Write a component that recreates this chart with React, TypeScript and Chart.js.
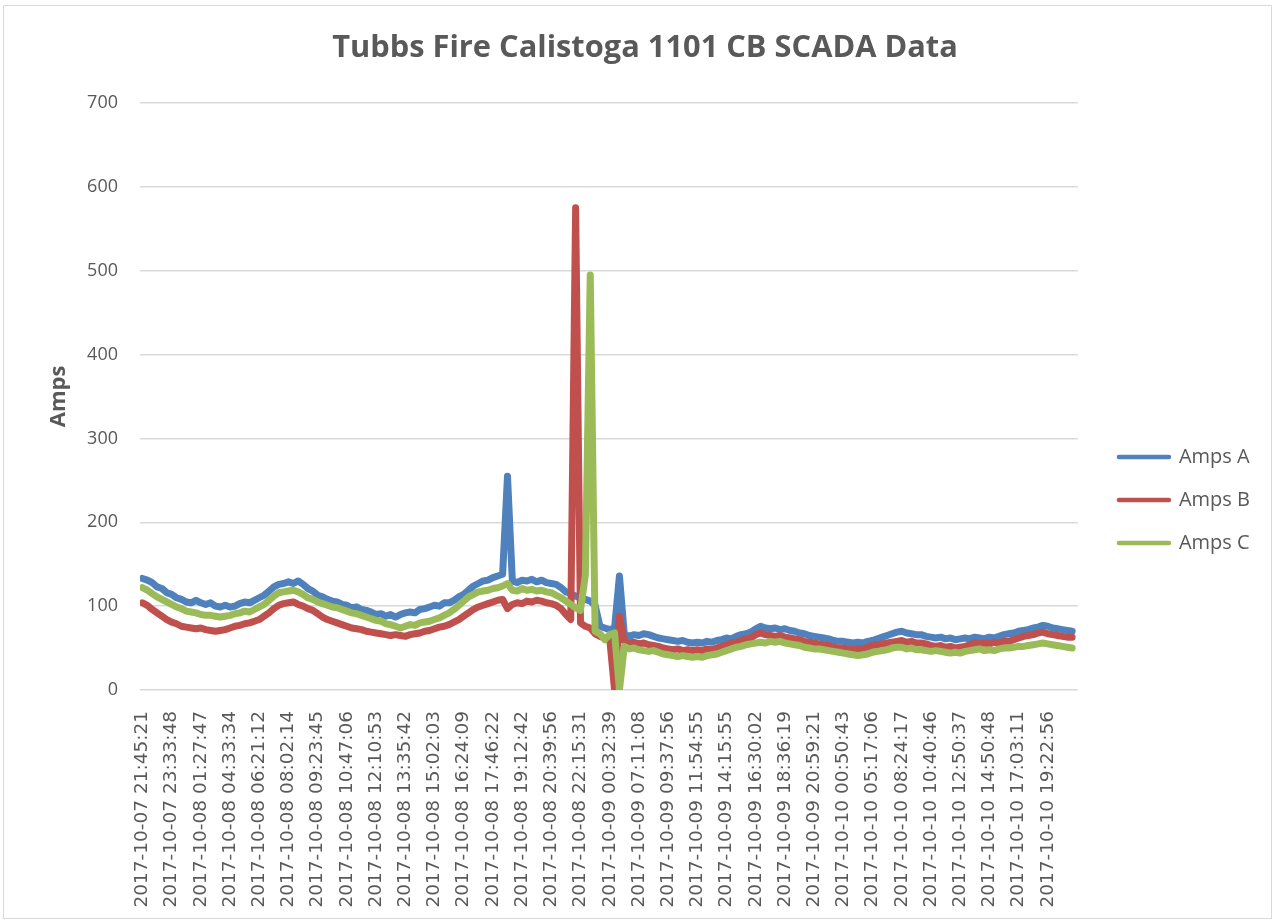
import { useEffect, useRef } from 'react';
import { Chart, registerables } from 'chart.js';

Chart.register(...registerables);

const chartTitle = 'Tubbs Fire Calistoga 1101 CB SCADA Data';
const yAxisTitle = 'Amps';
const seriesNames = ['Amps A', 'Amps B', 'Amps C'];
const seriesColors = ['#4f81bd', '#c0504d', '#9bbb59'];

// one tick label every LABEL_STEP samples
const LABEL_STEP = 6;
const tickLabels = [
  '2017-10-07 21:45:21', '2017-10-07 23:33:48', '2017-10-08 01:27:47', '2017-10-08 04:33:34',
  '2017-10-08 06:21:12', '2017-10-08 08:02:14', '2017-10-08 09:23:45', '2017-10-08 10:47:06',
  '2017-10-08 12:10:53', '2017-10-08 13:35:42', '2017-10-08 15:02:03', '2017-10-08 16:24:09',
  '2017-10-08 17:46:22', '2017-10-08 19:12:42', '2017-10-08 20:39:56', '2017-10-08 22:15:31',
  '2017-10-09 00:32:39', '2017-10-09 07:11:08', '2017-10-09 09:37:56', '2017-10-09 11:54:55',
  '2017-10-09 14:15:55', '2017-10-09 16:30:02', '2017-10-09 18:36:19', '2017-10-09 20:59:21',
  '2017-10-10 00:50:43', '2017-10-10 05:17:06', '2017-10-10 08:24:17', '2017-10-10 10:40:46',
  '2017-10-10 12:50:37', '2017-10-10 14:50:48', '2017-10-10 17:03:11', '2017-10-10 19:22:56',
];

const ampsA = [
  133, 131, 128, 123, 121, 116, 114, 110, 108, 105,
  104, 107, 104, 102, 104, 100, 99, 101, 99, 100,
  103, 105, 104, 107, 110, 113, 118, 123, 126, 127,
  129, 127, 130, 126, 121, 118, 113, 111, 108, 106,
  105, 102, 101, 98, 99, 96, 95, 93, 90, 91,
  88, 90, 87, 90, 92, 93, 92, 96, 97, 99,
  101, 100, 104, 104, 107, 111, 114, 119, 124, 127,
  130, 131, 134, 136, 138, 255, 130, 128, 131, 130,
  132, 129, 131, 128, 127, 126, 122, 117, 115, 112,
  110, 108, 106, 101, 76, 74, 72, 74, 136, 66,
  64, 66, 65, 67, 66, 64, 62, 61, 60, 59,
  58, 59, 57, 56, 57, 56, 58, 57, 59, 60,
  62, 61, 64, 66, 67, 69, 73, 76, 74, 73,
  74, 72, 73, 71, 70, 68, 67, 65, 64, 63,
  62, 61, 59, 58, 58, 57, 56, 57, 56, 58,
  59, 61, 63, 65, 67, 69, 70, 68, 67, 66,
  66, 64, 63, 62, 63, 61, 62, 60, 61, 62,
  61, 63, 62, 61, 63, 62, 64, 66, 67, 68,
  70, 71, 72, 74, 75, 77, 76, 74, 73, 72,
  71, 70,
];

const ampsB = [
  104, 101, 96, 92, 88, 84, 81, 79, 76, 75,
  74, 73, 74, 72, 71, 70, 71, 72, 74, 76,
  77, 79, 80, 82, 84, 88, 92, 97, 101, 103,
  104, 105, 102, 100, 97, 95, 91, 87, 84, 82,
  80, 78, 76, 74, 73, 72, 70, 69, 68, 67,
  66, 65, 66, 65, 64, 66, 67, 68, 70, 71,
  73, 75, 76, 78, 81, 84, 88, 92, 96, 99,
  101, 103, 105, 107, 108, 97, 102, 104, 103, 106,
  105, 107, 106, 104, 103, 101, 97, 90, 84, 575,
  80, 76, 74, 67, 64, 62, 61, 0, 88, 58,
  56, 57, 55, 56, 54, 53, 52, 50, 49, 48,
  49, 47, 48, 47, 48, 47, 49, 48, 50, 52,
  54, 56, 57, 59, 61, 62, 66, 68, 66, 65,
  64, 65, 63, 62, 61, 60, 58, 57, 56, 55,
  54, 53, 51, 50, 50, 49, 48, 49, 49, 51,
  53, 54, 55, 56, 57, 58, 59, 57, 58, 56,
  56, 55, 53, 52, 53, 51, 52, 50, 51, 52,
  54, 56, 55, 56, 55, 57, 56, 58, 58, 60,
  62, 64, 65, 66, 68, 69, 67, 66, 65, 64,
  63, 63,
];

const ampsC = [
  122, 119, 115, 111, 108, 105, 102, 99, 97, 94,
  93, 92, 90, 89, 89, 88, 87, 88, 89, 91,
  92, 94, 93, 96, 99, 102, 107, 112, 116, 117,
  118, 119, 117, 114, 110, 108, 105, 103, 101, 99,
  98, 96, 94, 92, 91, 89, 87, 85, 83, 82,
  79, 78, 76, 74, 76, 78, 77, 80, 81, 82,
  84, 86, 89, 92, 96, 101, 106, 111, 114, 117,
  118, 119, 121, 122, 124, 127, 119, 118, 121, 119,
  120, 118, 119, 117, 116, 113, 110, 106, 102, 98,
  95, 137, 495, 70, 67, 60, 66, 68, 0, 52,
  49, 50, 48, 47, 46, 47, 45, 43, 42, 41,
  40, 41, 40, 39, 40, 39, 41, 42, 43, 45,
  47, 49, 51, 52, 54, 55, 56, 57, 56, 58,
  57, 58, 56, 55, 54, 53, 51, 50, 49, 49,
  48, 47, 46, 45, 44, 43, 42, 41, 42, 43,
  45, 46, 47, 48, 50, 51, 51, 49, 50, 48,
  48, 47, 46, 47, 46, 45, 44, 45, 44, 46,
  47, 48, 49, 47, 48, 47, 49, 50, 50, 51,
  52, 52, 53, 54, 55, 56, 55, 54, 53, 52,
  51, 50,
];

const TEXT = '#595959';

export default function App() {
  const ref = useRef<HTMLCanvasElement>(null);

  useEffect(() => {
    const canvas = ref.current;
    if (!canvas) return;
    const series = [ampsA, ampsB, ampsC];
    const sampleIndex = ampsA.map((_, i) => i);
    const chart = new Chart(canvas, {
      type: 'line',
      data: {
        labels: sampleIndex,
        datasets: series.map((d, k) => ({
          label: seriesNames[k],
          data: d,
          borderColor: seriesColors[k],
          backgroundColor: seriesColors[k],
          borderWidth: 7,
          pointRadius: 0,
          pointHoverRadius: 0,
          borderCapStyle: 'round',
          borderJoinStyle: 'round',
          tension: 0,
          fill: false,
          order: 3 - k,
        })),
      },
      options: {
        responsive: false,
        animation: false,
        events: [],
        layout: { padding: { left: 30, right: 18, top: 0, bottom: 0 } },
        plugins: {
          title: {
            display: true,
            text: chartTitle,
            color: TEXT,
            font: { family: 'Open Sans', size: 30.8, weight: 'bold' },
            padding: { top: 30, bottom: 36 },
          },
          legend: {
            position: 'right',
            align: 'center',
            title: { display: true, text: '', padding: { top: 63.6, bottom: 0 } },
            labels: {
              usePointStyle: true,
              pointStyle: 'line',
              pointStyleWidth: 50,
              padding: 23,
              color: TEXT,
              font: { family: 'Open Sans', size: 20 },
              sort: (a: any, b: any) => a.datasetIndex - b.datasetIndex,
              generateLabels: (c: any) =>
                (Chart.defaults.plugins.legend.labels as any)
                  .generateLabels(c)
                  .map((l: any) => ({ ...l, lineWidth: 4.5, lineCap: 'round', pointStyle: 'line' })),
            },
          },
          tooltip: { enabled: false },
        },
        scales: {
          x: {
            type: 'linear',
            min: -0.5,
            max: 192.2,
            grid: { display: false },
            border: { display: false },
            afterBuildTicks: (s: any) => {
              s.ticks = tickLabels.map((_, i) => ({ value: i * LABEL_STEP }));
            },
            afterFit: (s: any) => {
              s.height = 232;
            },
            ticks: {
              autoSkip: false,
              minRotation: 90,
              maxRotation: 90,
              padding: 13,
              color: TEXT,
              font: { family: 'DejaVu Sans', size: 18.5 },
              callback: (v: any) => tickLabels[Math.round(Number(v) / LABEL_STEP)] ?? '',
            },
          },
          y: {
            min: 0,
            max: 700,
            grid: { color: '#d9d9d9', lineWidth: 1.5, drawTicks: false },
            border: { display: false },
            afterFit: (s: any) => {
              s.width = 110;
            },
            ticks: {
              stepSize: 100,
              padding: 22,
              color: TEXT,
              font: { family: 'Open Sans', size: 18 },
            },
            title: {
              display: true,
              text: yAxisTitle,
              color: TEXT,
              font: { family: 'Open Sans', size: 22, weight: 'bold' },
              padding: { top: 16, bottom: 0 },
            },
          },
          gap: {
            type: 'linear',
            position: 'right',
            display: true,
            grid: { display: false },
            border: { display: false },
            ticks: { display: false },
            afterFit: (s: any) => {
              s.width = 18;
            },
          },
        },
      } as any,
    });
    return () => chart.destroy();
  }, []);

  return (
    <div style={{ position: 'absolute', left: 0, top: 0, width: 1278, height: 922, background: '#fff' }}>
      <canvas
        ref={ref}
        width={1278}
        height={922}
        style={{ position: 'absolute', left: 0, top: 0, width: 1278, height: 922 }}
      />
      <div
        style={{
          position: 'absolute',
          left: 3,
          top: 5,
          width: 1267,
          height: 912,
          border: '1px solid #d9d9d9',
          pointerEvents: 'none',
        }}
      />
    </div>
  );
}
